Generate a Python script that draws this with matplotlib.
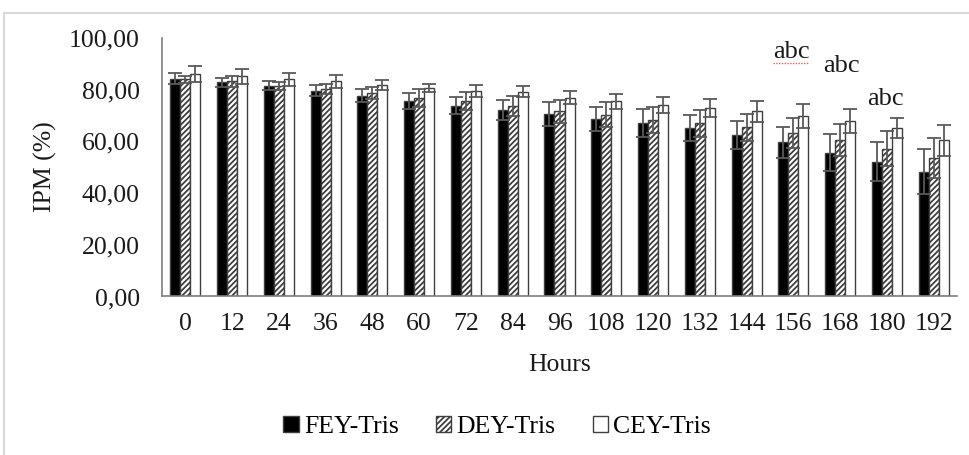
import numpy as np
import matplotlib
matplotlib.use("Agg")
import matplotlib.pyplot as plt
from matplotlib.patches import Patch
from matplotlib.lines import Line2D

plt.rcParams['font.family'] = ['Liberation Serif', 'DejaVu Serif']
plt.rcParams['hatch.linewidth'] = 1.3

# data
hours = ['0', '12', '24', '36', '48', '60', '72', '84', '96', '108', '120',
         '132', '144', '156', '168', '180', '192']
fey = [84.3, 82.8, 81.5, 79.7, 77.7, 75.7, 73.8, 72.2, 70.5, 68.6, 67.0,
       65.1, 62.4, 59.6, 55.7, 52.2, 48.3]
dey = [84.0, 83.2, 81.3, 80.2, 78.7, 76.7, 75.6, 73.6, 71.7, 70.3, 68.3,
       67.0, 65.4, 63.2, 60.5, 57.2, 53.5]
cey = [86.0, 85.2, 84.1, 83.2, 81.8, 80.7, 79.6, 79.2, 76.9, 75.6, 74.1,
       73.0, 71.6, 69.8, 67.9, 65.3, 60.4]
fey_err = [2.0, 1.7, 1.7, 2.0, 2.6, 3.2, 3.2, 4.0, 4.7, 4.7, 5.4, 5.0, 5.5,
           6.1, 7.1, 7.6, 8.6]
dey_err = [1.5, 2.0, 1.5, 2.0, 2.3, 3.5, 3.6, 3.9, 4.5, 4.8, 5.0, 5.2, 5.2,
           5.7, 6.3, 6.9, 7.7]
cey_err = [3.1, 3.0, 2.5, 2.6, 1.9, 1.7, 2.3, 2.1, 2.6, 2.9, 3.1, 3.4, 3.9,
           4.5, 4.5, 3.9, 6.0]
series = ['FEY-Tris', 'DEY-Tris', 'CEY-Tris']
letters = ['abc', 'abc', 'abc']
letter_x = [12.95, 14.02, 14.96]
letter_y = [94.6, 89.1, 76.4]

fig = plt.figure(figsize=(9.69, 4.55), dpi=100)
ax = fig.add_axes([0.1672, 0.3484, 0.8204, 0.568])

x = np.arange(len(hours))
w = 0.214
edge = '#3f3f3f'
errc = '#595959'
ekw = dict(ecolor=errc, elinewidth=1.3, capsize=5, capthick=1.3)

ax.bar(x - w, fey, w, color='black', edgecolor=edge, linewidth=1.0,
       yerr=fey_err, error_kw=ekw, label=series[0])
ax.bar(x, dey, w, color='white', edgecolor=edge, hatch='//////', linewidth=1.0,
       yerr=dey_err, error_kw=ekw, label=series[1])
ax.bar(x + w, cey, w, color='white', edgecolor=edge, linewidth=1.0,
       yerr=cey_err, error_kw=ekw, label=series[2])

ax.set_xlim(-0.5, len(hours) - 0.5)
ax.set_ylim(0, 100)
ax.set_yticks(np.arange(0, 101, 20))
ax.set_yticklabels([f'{v:.2f}'.replace('.', ',') for v in range(0, 101, 20)])
ax.set_xticks(x)
ax.set_xticklabels(hours)
ax.tick_params(axis='both', length=0, labelsize=18.5, colors='#1a1a1a')
ax.tick_params(axis='x', pad=12)
ax.tick_params(axis='y', pad=16)

for side in ['top', 'right']:
    ax.spines[side].set_visible(False)
for side in ['left', 'bottom']:
    ax.spines[side].set_color('#7f7f7f')
    ax.spines[side].set_linewidth(1.2)

for lx, ly, t in zip(letter_x, letter_y, letters):
    ax.text(lx, ly, t, ha='center', va='center', fontsize=19, color='#1a1a1a')
# spell-check squiggle under the first label
ax.plot([letter_x[0] - 0.38, letter_x[0] + 0.38], [letter_y[0] - 4.4] * 2,
        color='#e06060', lw=1.0, ls=(0, (1, 1)))

fig.text(559.5 / 969, 1 - 365 / 455, 'Hours', ha='center', va='center',
         fontsize=18.5, color='#1a1a1a')
fig.text(45 / 969, 1 - 167 / 455, 'IPM (%)', ha='center', va='center',
         rotation=90, fontsize=18.5, color='#1a1a1a')

handles = [Patch(facecolor='black', edgecolor=edge),
           Patch(facecolor='white', edgecolor=edge, hatch='//////'),
           Patch(facecolor='white', edgecolor=edge)]
fig.legend(handles, series, loc='center', bbox_to_anchor=(0.513, 0.062),
           ncol=3, frameon=False, fontsize=18.5, handlelength=0.6,
           handleheight=0.6, handletextpad=0.2, columnspacing=1.45,
           borderaxespad=0)

# light frame of the chart area
fig.add_artist(Line2D([4 / 969, 1], [1 - 12.7 / 455] * 2, color='#d9d9d9', lw=1.5))
fig.add_artist(Line2D([4 / 969] * 2, [0, 1 - 12.7 / 455], color='#d9d9d9', lw=1.5))

fig.savefig('out.png', dpi=100)
